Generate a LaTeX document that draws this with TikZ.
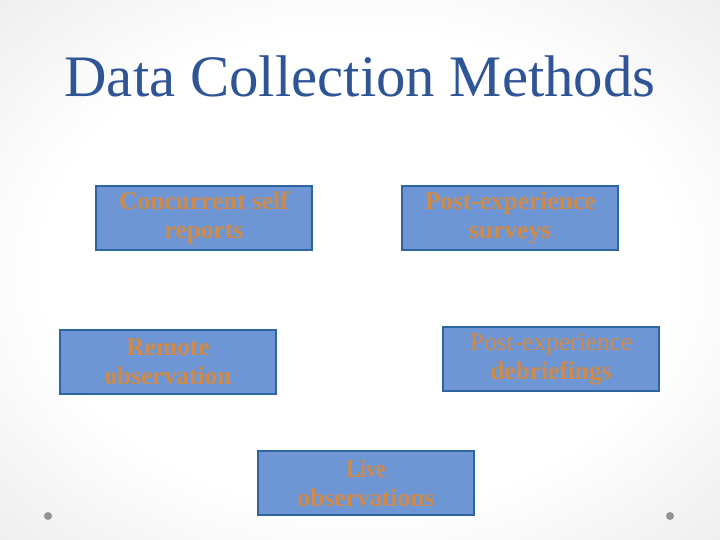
\documentclass[tikz,border=0pt]{standalone}
\usepackage{fontspec}
\setmainfont{Liberation Serif}
\usepackage{xcolor}
\usepackage{tikz}
\usetikzlibrary{positioning}
\definecolor{slidebg}{RGB}{212,212,212}
\definecolor{slidecorner}{RGB}{200,200,200}
\definecolor{titleblue}{RGB}{47,85,151}
\definecolor{boxfill}{RGB}{110,150,213}
\definecolor{boxline}{RGB}{46,100,160}
\definecolor{boxtext}{RGB}{208,138,70}
\pgfdeclareradialshading{slideshade}{\pgfpoint{0bp}{0bp}}{%
  color(0bp)=(white); color(22bp)=(white); color(38bp)=(white!55!slidebg);
  color(50bp)=(slidebg); color(72bp)=(slidecorner)}
\tikzset{
  mbox/.style   = {rectangle, draw=boxline, fill=boxfill, line width=1.2bp,
                   align=center, text=boxtext, inner sep=2pt,
                   font=\fontsize{25.5}{29}\selectfont\bfseries,
                   minimum width=216bp, minimum height=64bp},
  ttl/.style    = {font=\fontsize{59}{60}\selectfont, inner sep=0pt},
  bullet/.style = {fill=gray!85},
}

\begin{document}
\begin{tikzpicture}[x=1bp, y=-1bp]
  \useasboundingbox (0,0) rectangle (720,540);
  \shade[shading=slideshade] (0,0) rectangle (720,540);
  % title
  \node[ttl, text=titleblue] (title) at (360,76) {Data Collection Methods};
  % methods
  \node[mbox] (concurrent)  at (204,218) {Concurrent self\\reports};
  \node[mbox] (surveys)     at (510,218) {Post-experience\\surveys};
  \node[mbox] (remote)      at (168,362) {Remote\\observation};
  \node[mbox] (debriefings) at (551,359) {\mdseries Post-experience\\debriefings};
  \node[mbox] (live)        at (366,483)
    {\addfontfeature{FakeStretch=0.82}Live\\observations};
  % bullets
  \fill[bullet] (48,516) circle (4bp);
  \fill[bullet] (670,516) circle (4bp);
\end{tikzpicture}
\end{document}
